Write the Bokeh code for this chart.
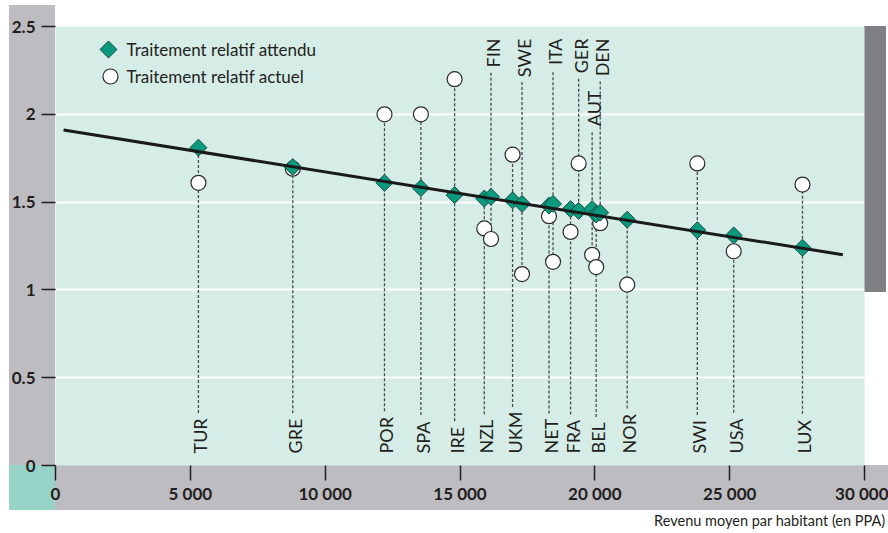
import math
from bokeh.plotting import figure
from bokeh.models import ColumnDataSource, FixedTicker, Range1d, Title
from bokeh.core.properties import value
from bokeh.embed import file_html
from bokeh.resources import INLINE

# ---------------- data ----------------
countries = ["TUR", "GRE", "POR", "SPA", "IRE", "NZL", "FIN", "UKM", "SWE", "NET",
             "ITA", "FRA", "GER", "AUT", "BEL", "DEN", "NOR", "SWI", "USA", "LUX"]
income = [5300, 8800, 12200, 13550, 14800, 15900, 16150, 16950, 17300, 18300,
          18450, 19100, 19400, 19900, 20050, 20200, 21200, 23800, 25150, 27700]
expected = [1.81, 1.70, 1.61, 1.58, 1.54, 1.52, 1.53, 1.51, 1.49, 1.48,
            1.49, 1.46, 1.45, 1.46, 1.43, 1.44, 1.40, 1.34, 1.31, 1.24]
actual = [1.61, 1.69, 2.00, 2.00, 2.20, 1.35, 1.29, 1.77, 1.09, 1.42,
          1.16, 1.33, 1.72, 1.20, 1.13, 1.38, 1.03, 1.72, 1.22, 1.60]
labels_above = ["FIN", "SWE", "ITA", "GER", "DEN", "AUT"]
labels_staggered = ["AUT"]

trend_x = [300, 29200]
trend_y = [1.91, 1.20]

x_ticks = [0, 5000, 10000, 15000, 20000, 25000, 30000]
x_tick_labels = ["0", "5 000", "10 000", "15 000", "20 000", "25 000", "30 000"]
y_ticks = [0, 0.5, 1, 1.5, 2, 2.5]
y_tick_labels = ["0", "0.5", "1", "1.5", "2", "2.5"]

x_title = "Revenu moyen par habitant (en PPA)"
legend_labels = ["Traitement relatif attendu", "Traitement relatif actuel"]

# ---------------- layout / style ----------------
W, H = 888, 533
BL, BR, BT, BB = 55, 24, 26, 68
FRAME_W = W - BL - BR
FRAME_H = H - BT - BB
X0, X1 = 0, 30000
Y0, Y1 = 0, 2.5
YPX = FRAME_H / (Y1 - Y0)

FONT = "Lato"
TXT = "#231f20"
TEAL_BG = "#d6ece6"
GRAY = "#bdbdc1"
DARK_GRAY = "#808084"
CORNER = "#97d4c7"
DIAMOND = "#0a9a7d"
DIAMOND_LINE = "#1d4b42"

FS_LBL = 18
CW = {"A": .68, "B": .63, "D": .74, "E": .56, "F": .54, "G": .72, "I": .28, "K": .65,
      "L": .50, "M": .88, "N": .75, "O": .80, "P": .60, "R": .62, "S": .53, "T": .58,
      "U": .72, "W": .99, "X": .66, "Z": .60}


def text_len(s):
    return sum(CW.get(c, 0.62) for c in s) * FS_LBL


def px_to_x(px):  # pixels from frame left -> data x
    return X0 + (X1 - X0) * px / FRAME_W


def px_to_y(py):  # pixels from frame top -> data y
    return Y1 - py / YPX


bottom_anchor = px_to_y(FRAME_H - 12)
top_anchor = px_to_y(12)
stagger = 52 / YPX

lx, ly, lc, ux, uy, uc = [], [], [], [], [], []
sx0, sy0, sx1, sy1 = [], [], [], []
for c, xi, e, a in zip(countries, income, expected, actual):
    L = (text_len(c) + 6) / YPX
    if c in labels_above:
        anc = top_anchor - (stagger if c in labels_staggered else 0)
        ux.append(xi); uy.append(anc); uc.append(c)
        sx0.append(xi); sy0.append(anc - L); sx1.append(xi); sy1.append(min(e, a))
    else:
        lx.append(xi); ly.append(bottom_anchor); lc.append(c)
        sx0.append(xi); sy0.append(bottom_anchor + L); sx1.append(xi); sy1.append(max(e, a))

src = ColumnDataSource(dict(income=income, expected=expected, actual=actual, country=countries))

p = figure(width=W, height=H, output_backend="svg", toolbar_location=None,
           x_range=Range1d(X0, X1), y_range=Range1d(Y0, Y1),
           min_border_left=BL, min_border_right=BR, min_border_top=BT, min_border_bottom=BB)
p.background_fill_color = TEAL_BG
p.border_fill_color = None
p.outline_line_color = None

# decorative bands around the frame (CSS background behind the transparent border)
bands = [
    (DARK_GRAY, W - BR, BT, 22, 266),
    (CORNER, 9, H - BB, BL - 9, 45),
    (GRAY, BL, H - BB, W - BL, 45),
    (GRAY, 9, 5, BL - 9, H - BB - 5),
]
bg = ", ".join(f"linear-gradient({c}, {c}) {x}px {y}px / {w}px {h}px no-repeat"
               for c, x, y, w, h in bands) + ", white"
p.styles = {"background": bg}

# axes
p.xaxis.ticker = FixedTicker(ticks=x_ticks)
p.xaxis.major_label_overrides = {t: s for t, s in zip(x_ticks, x_tick_labels)}
p.yaxis.ticker = FixedTicker(ticks=y_ticks)
p.yaxis.major_label_overrides = {t: s for t, s in zip(y_ticks, y_tick_labels)}
for ax in (p.xaxis[0], p.yaxis[0]):
    ax.axis_line_color = None
    ax.major_tick_line_color = TXT
    ax.major_tick_line_width = 1.5
    ax.major_tick_in = 0
    ax.minor_tick_line_color = None
    ax.major_label_text_font = FONT
    ax.major_label_text_font_style = "bold"
    ax.major_label_text_font_size = "17px"
    ax.major_label_text_color = TXT
p.yaxis.major_tick_out = 14
p.yaxis.major_label_standoff = 6
p.xaxis.major_tick_out = 15
p.xaxis.major_label_standoff = 2

p.xgrid.grid_line_color = None
p.ygrid.ticker = FixedTicker(ticks=y_ticks)
p.ygrid.grid_line_color = "white"
p.ygrid.grid_line_width = 2

p.add_layout(Title(text=x_title, align="right", offset=-21, text_font=FONT,
                   text_font_size="14.5px", text_font_style="normal", text_color=TXT,
                   standoff=7), "below")

# drop lines
p.segment(x0=sx0, y0=sy0, x1=sx1, y1=sy1, line_color="#4a4a4a", line_width=1.3, line_dash="3 2")

p.scatter(x="income", y="actual", source=src, marker="circle", size=15,
          fill_color="white", line_color="#2b2b2b", line_width=1.2)
p.scatter(x="income", y="expected", source=src, marker="square", angle=math.pi / 4,
          size=12, fill_color=DIAMOND, line_color=DIAMOND_LINE, line_width=1)
p.line(trend_x, trend_y, line_color="#1a1a1a", line_width=3)

# country labels
p.text(x=lx, y=ly, text=lc, angle=math.pi / 2, text_align="left", text_baseline="alphabetic",
       x_offset=2, text_font=value(FONT), text_font_size=f"{FS_LBL}px", text_color=TXT)
p.text(x=ux, y=uy, text=uc, angle=math.pi / 2, text_align="right", text_baseline="alphabetic",
       x_offset=2, text_font=value(FONT), text_font_size=f"{FS_LBL}px", text_color=TXT)

# legend (swatches placed by pixel offsets inside the frame)
leg_y = [px_to_y(23), px_to_y(50)]
p.scatter(x=[px_to_x(53)], y=[leg_y[0]], marker="square", angle=math.pi / 4, size=12,
          fill_color=DIAMOND, line_color=DIAMOND_LINE, line_width=1)
p.scatter(x=[px_to_x(55)], y=[leg_y[1]], marker="circle", size=15,
          fill_color="white", line_color="#2b2b2b", line_width=1.2)
p.text(x=[px_to_x(71)] * 2, y=leg_y, text=legend_labels, text_align="left",
       text_baseline="middle", text_font=value(FONT), text_font_size="17px", text_color=TXT)

open("out.html", "w").write(file_html(p, INLINE))
